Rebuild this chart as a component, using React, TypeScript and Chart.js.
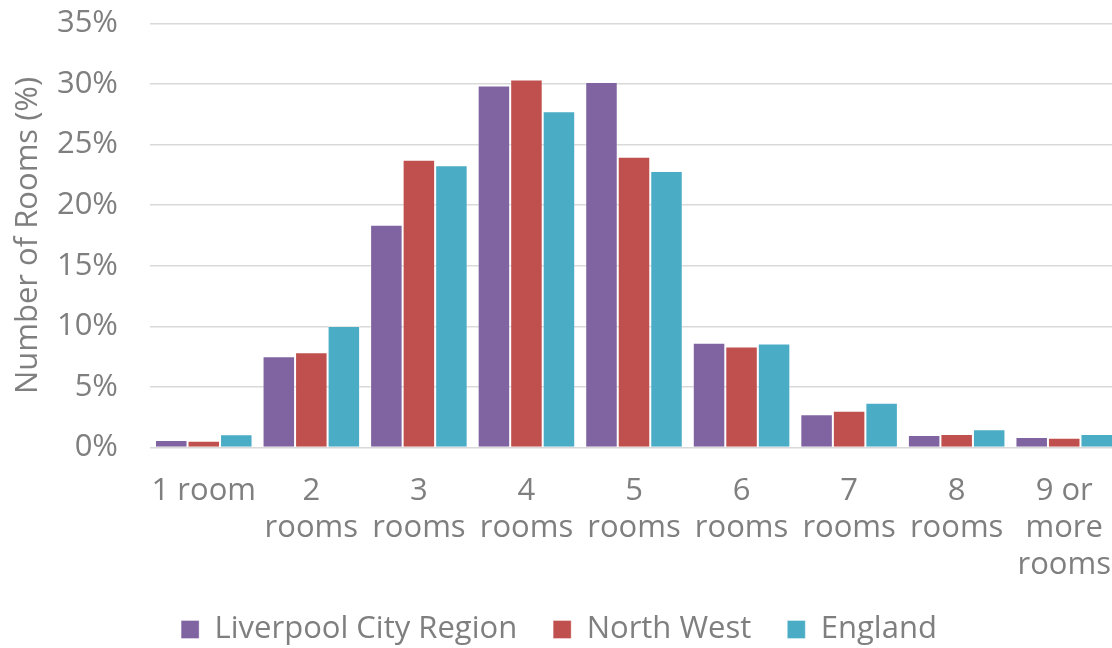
import React, { useEffect, useRef } from "react";
import { Chart, registerables } from "chart.js";

Chart.register(...registerables);

const categories: (string | string[])[] = [
  "1 room",
  ["2", "rooms"],
  ["3", "rooms"],
  ["4", "rooms"],
  ["5", "rooms"],
  ["6", "rooms"],
  ["7", "rooms"],
  ["8", "rooms"],
  ["9 or", "more", "rooms"],
];

const liverpoolCityRegion = [0.62, 7.54, 18.39, 29.88, 30.18, 8.64, 2.74, 1.03, 0.87];
const northWest = [0.56, 7.87, 23.76, 30.37, 24.0, 8.33, 3.04, 1.12, 0.81];
const england = [1.09, 10.02, 23.29, 27.75, 22.83, 8.58, 3.7, 1.5, 1.12];

const yTicks = [0, 5, 10, 15, 20, 25, 30, 35];

const FONT = "'Open Sans'";
const TEXT = "#7f7f7f";

export default function App() {
  const ref = useRef<HTMLCanvasElement | null>(null);

  useEffect(() => {
    if (!ref.current) return;
    const chart = new Chart(ref.current, {
      type: "bar",
      data: {
        labels: categories,
        datasets: [
          { label: "Liverpool City Region", data: liverpoolCityRegion, backgroundColor: "#8064A2" },
          { label: "North West", data: northWest, backgroundColor: "#C0504D" },
          { label: "England", data: england, backgroundColor: "#4BACC6" },
        ].map((d) => ({
          ...d,
          borderColor: "rgba(255,255,255,0.35)",
          borderWidth: 1,
          categoryPercentage: 0.907,
          barPercentage: 1,
        })),
      },
      options: {
        animation: false,
        responsive: true,
        maintainAspectRatio: false,
        layout: { padding: { left: 0, right: 0, top: 23.5, bottom: 0 } },
        plugins: {
          tooltip: { enabled: false },
          legend: {
            position: "bottom",
            labels: {
              boxWidth: 18,
              boxHeight: 18,
              padding: 36,
              color: TEXT,
              font: { family: FONT, size: 31 },
            },
          },
        },
        scales: {
          x: {
            grid: { display: false, drawTicks: false },
            border: { display: false },
            ticks: {
              color: TEXT,
              font: { family: FONT, size: 31, lineHeight: 1.2 },
              padding: 25,
              maxRotation: 0,
              autoSkip: false,
            },
            afterFit: (scale: any) => {
              scale.height = 130.5;
              scale.paddingLeft = 0;
              scale.paddingRight = 0;
            },
          },
          y: {
            min: 0,
            max: 35,
            afterBuildTicks: (axis: any) => {
              axis.ticks = yTicks.map((v) => ({ value: v }));
            },
            grid: { color: "#d9d9d9", lineWidth: 1.6, drawTicks: false },
            border: { display: false },
            ticks: {
              color: TEXT,
              font: { family: FONT, size: 31 },
              padding: 32,
              callback: (v: any) => v + "%",
            },
            title: {
              display: true,
              text: "Number of Rooms (%)",
              color: TEXT,
              font: { family: FONT, size: 31, lineHeight: 1.2 },
              padding: { top: 10, bottom: 0 },
            },
            afterFit: (scale: any) => {
              scale.width = 150;
              scale.paddingTop = 0;
              scale.paddingBottom = 0;
            },
          },
        },
      },
    });
    return () => chart.destroy();
  }, []);

  return (
    <div style={{ position: "fixed", left: 0, top: 0, width: 1112, height: 648, overflow: "hidden", background: "#fff" }}>
      <div style={{ position: "absolute", left: 0, top: 0, width: 1118, height: 655 }}>
        <canvas ref={ref} />
      </div>
    </div>
  );
}
